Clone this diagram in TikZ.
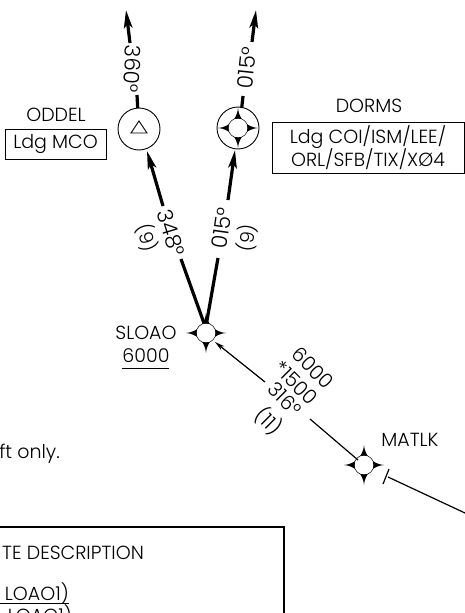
\documentclass[tikz,border=0pt]{standalone}
\usepackage{fontspec}
\setmainfont{Poppins Light}
\usetikzlibrary{arrows.meta}
\tikzset{
  txt/.style={inner sep=0pt,font=\fontsize{19}{23}\selectfont},
  rtxt/.style={inner sep=0pt,font=\fontsize{21.5}{24}\selectfont},
  dtxt/.style={inner sep=0pt,rotate=-45,font=\fontsize{20}{22}\selectfont},
  thickleg/.style={line width=3.2pt},
  arr/.style={-{Stealth[length=18pt,width=8.5pt,inset=4pt]}},
  boxed/.style={draw,line width=.8pt,inner sep=0pt,align=center,font=\fontsize{19}{23}\selectfont},
  fix/.style={circle,draw,line width=.9pt,minimum size=42pt,inner sep=0pt},
  uline/.style={line width=.9pt}
}
\newcommand{\starfix}[2]{%
  \begin{scope}[shift={(#1,#2)}]
  \fill[black] (-20,0) .. controls (-9,-.8) and (-.8,-9) .. (0,-20)
    .. controls (.8,-9) and (9,-.8) .. (20,0)
    .. controls (9,.8) and (.8,9) .. (0,20)
    .. controls (-.8,9) and (-9,.8) .. (-20,0) -- cycle;
  \fill[white] (0,0) circle (9.6);
  \draw[line width=.5pt] (0,0) circle (9.8);
  \end{scope}
}
\begin{document}
\begin{tikzpicture}[x=1pt,y=-1pt]
\useasboundingbox (0,0) rectangle (465,613);
\clip (0,0) rectangle (465,613);
% fixes
\node[fix] (oddel) at (139,129) {};
\draw[line width=.9pt,line join=miter] (131,133) -- (139,121) -- (147,133) -- cycle;
\node[fix] (dorms) at (238,128) {};
\starfix{238}{128}
\coordinate (sloao) at (206,333);
\coordinate (matlk) at (364,465);
\coordinate (a1) at (130,43); \coordinate (a1t) at (126,10);
\coordinate (a2) at (252,42); \coordinate (a2t) at (256,10);
% top arrows
\draw[thickleg,arr] (a1) -- (a1t);
\draw[thickleg,arr] (a2) -- (a2t);
\draw[thickleg] (137,95) -- (137.7,108);
\draw[thickleg] (241.7,108) -- (243,96);
% SLOAO legs
\coordinate (l1) at (181,259); \coordinate (l2) at (163,206);
\coordinate (r1) at (218,258); \coordinate (r2) at (228,200);
\draw[thickleg] (205,326) -- (l1);
\draw[thickleg] (206,326) -- (r1);
\draw[thickleg,arr] (l2) -- (147,151);
\draw[thickleg,arr] (r2) -- (235,150);
\starfix{206}{333}
\starfix{364}{465}
% inbound
\draw[line width=1.2pt,-{Stealth[length=10pt,width=5pt]}] (265,382) -- (215,342);
\draw[line width=1.2pt] (310,419) -- (358,460);
\coordinate (t1) at (389,469); \coordinate (t2) at (383,484);
\draw[line width=1.2pt] (t1) -- (t2);
\draw[line width=1.2pt] (388,477) -- (465,513);
% labels
\node[rtxt,rotate=-94] (n1) at (132,69) {360°};
\node[rtxt,rotate=84] (n2) at (247,68) {015°};
\node[rtxt,rotate=-73] (n3) at (171,233) {348°};
\node[rtxt,rotate=82] (n4) at (222,228) {015°};
\node[txt,rotate=-73] (n5) at (147,238) {(9)};
\node[txt,rotate=82] (n6) at (247,238) {(9)};
\node[txt] (odl) at (56,115) {ODDEL};
\node[boxed,minimum width=101pt,minimum height=30pt] (ob) at (55.5,144) {Ldg MCO};
\node[txt] (dl) at (369,106) {DORMS};
\node[boxed,minimum width=192pt,minimum height=51pt] (db) at (368,147.5) {Ldg COI/ISM/LEE/\\ORL/SFB/TIX/X\O 4};
\node[txt] (sl) at (146,333) {SLOAO};
\node[txt] (sa) at (146,356) {6000};
\draw[uline] (122,368) -- (169,368);
\node[dtxt] (c1) at (313,368) {6000};
\node[dtxt] (c2) at (296,383) {*1500};
\node[dtxt] (c3) at (285,399) {316°};
\node[dtxt] (c4) at (269,421) {(11)};
\node[txt] (ml) at (410,440) {MATLK};
\node[txt,anchor=base east] (ft) at (60,458) {ft only.};
% bottom box
\draw[line width=1.6pt] (-5,527) -- (284,527) -- (284,620);
\node[txt,anchor=base east] (de) at (144,559) {TE DESCRIPTION};
\node[txt,anchor=base east] (s1) at (69,600) {LOAO1)};
\draw[uline] (0,603) -- (69,603);
\node[txt,anchor=base east] (s2) at (72,622) {LOAO1)};
\end{tikzpicture}
\end{document}
